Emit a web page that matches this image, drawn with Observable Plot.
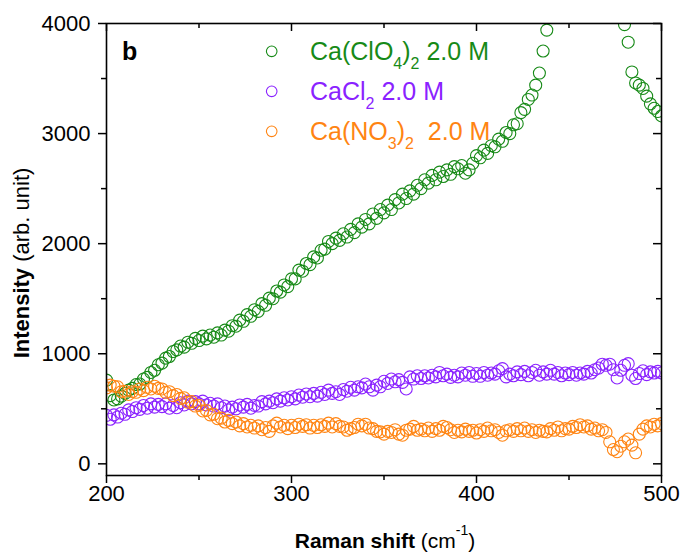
<!DOCTYPE html>
<html>
<head>
<meta charset="utf-8">
<script src="https://cdn.jsdelivr.net/npm/d3@7"></script>
<script src="https://cdn.jsdelivr.net/npm/@observablehq/plot@0.6"></script>
<style>
  html, body { margin: 0; padding: 0; background: #fff; }
  #chart { width: 681px; height: 553px; }
</style>
</head>
<body>
<div id="chart"></div>
<script>
// ---- data ----
const shift = [200,202,204,206,208,210,212,214,216,218,220,222,224,226,228,230,232,234,236,238,240,242,244,246,248,250,252,254,256,258,260,262,264,266,268,270,272,274,276,278,280,282,284,286,288,290,292,294,296,298,300,302,304,306,308,310,312,314,316,318,320,322,324,326,328,330,332,334,336,338,340,342,344,346,348,350,352,354,356,358,360,362,364,366,368,370,372,374,376,378,380,382,384,386,388,390,392,394,396,398,400,402,404,406,408,410,412,414,416,418,420,422,424,426,428,430,432,434,436,438,440,442,444,446,448,450,452,454,456,458,460,462,464,466,468,470,472,474,476,478,480,482,484,486,488,490,492,494,496,498,500];

// Ca(ClO4)2 2.0 M  (null = above the 4000 axis limit, not visible)
const caClO4 = [
  760,620,580,590,615, 640,670,685,720,725, 770,785,830,850,900, 915,960,975,1020,1035,
  1070,1060,1105,1095,1140, 1120,1160,1135,1170,1150, 1190,1170,1215,1205,1255, 1250,1305,1295,1355,1340,
  1400,1385,1455,1440,1505, 1500,1570,1560,1625,1610, 1680,1680,1760,1750,1820, 1810,1880,1870,1940,1950,
  2020,2000,2050,2030,2090, 2060,2130,2100,2180,2150, 2220,2180,2270,2230,2310, 2280,2350,2310,2400,2370,
  2450,2410,2480,2450,2530, 2500,2580,2550,2620,2580, 2650,2610,2670,2630,2700, 2680,2710,2640,2670,2730,
  2800,2780,2850,2820,2890, 2880,2950,2930,3010,3000, 3080,3090,3190,3220,3310, 3350,3440,3550,3750,3940,
  null,null,null,null,null, null,null,null,null,null, null,null,null,null,null, null,null,null,null,null,
  3990,3830,3560,3460,3440, 3410,3340,3270,3230,3200, 3160
];

// CaCl2 2.0 M
const caCl2 = [
  440,405,445,425,460, 450,490,475,510,495, 530,505,545,515,540, 520,545,505,530,510,
  555,535,570,545,565, 545,570,535,550,525, 545,510,525,490,515, 500,535,515,540,505,
  530,525,565,545,570, 555,590,570,600,580, 610,590,625,605,635, 610,640,615,650,630,
  670,640,655,630,675, 660,695,670,700,690, 725,700,670,715,700, 750,730,770,745,765,
  740,680,790,770,800, 775,800,780,805,790, 830,800,815,785,805, 790,825,805,830,795,
  820,795,830,805,825, 815,845,865,790,815, 800,835,810,840,800, 830,850,805,835,815,
  850,815,830,800,825, 810,830,805,825,815, 840,825,855,870,905, 895,905,855,780,850,
  895,910,805,775,820, 845,810,835,825,840, 825
];

// Ca(NO3)2 2.0 M
const caNO3 = [
  690,715,705,700,655, 660,630,655,650,680, 665,695,680,705,685, 680,650,655,620,630,
  595,600,560,565,525, 530,480,485,445,450, 410,415,380,395,365, 380,345,365,335,350,
  325,345,310,330,295, 345,370,335,350,320, 350,330,360,340,355, 325,350,330,355,340,
  370,335,365,340,335, 305,320,330,360,345, 360,325,320,295,290, 270,295,285,310,270,
  260,305,315,340,305, 315,300,325,295,320, 305,340,330,310,285, 305,290,315,295,305,
  280,310,295,325,300, 310,285,260,300,310, 295,320,300,325,295, 310,285,305,295,290,
  320,305,335,300,320, 315,340,330,355,335, 345,315,325,300,310, 285,200,130,110,160,
  200,225,170,100,270, 315,345,335,360,345, 365
];

const seriesNames  = ["Ca(ClO4)2 2.0 M", "CaCl2 2.0 M", "Ca(NO3)2 2.0 M"];
const seriesColors = ["#178a17", "#8a22ff", "#ff8412"];
const xMajorTicks = [200, 300, 400, 500];
const xMinorTicks = [250, 350, 450];
const yMajorTicks = [0, 1000, 2000, 3000, 4000];
const yMinorTicks = [500, 1500, 2500, 3500];

// ---- build table ----
const seriesValues = [caClO4, caCl2, caNO3];
const rows = [];
seriesValues.forEach((vals, k) => {
  vals.forEach((v, i) => {
    if (v != null) rows.push({shift: shift[i], intensity: v, series: seriesNames[k]});
  });
});

const W = 681, H = 553, mL = 106, mR = 20, mT = 23, mB = 78;
const innerW = W - mL - mR, innerH = H - mT - mB;
const FONT = "'Liberation Sans', Arial, Helvetica, sans-serif";

const plot = Plot.plot({
  width: W, height: H,
  marginLeft: mL, marginRight: mR, marginTop: mT, marginBottom: mB,
  style: {fontFamily: FONT, fontSize: "22px", color: "#000", background: "#fff"},
  x: {domain: [200, 500]},
  y: {domain: [-106, 4000]},
  color: {domain: seriesNames, range: seriesColors},
  marks: [
    Plot.dot(rows, {x: "shift", y: "intensity", stroke: "series", fill: "none", r: 6, strokeWidth: 1.1, clip: true}),
    Plot.frame({stroke: "#000", strokeWidth: 1.6}),
    Plot.axisX({ticks: xMajorTicks, tickSize: 8, tickPadding: 2, tickFormat: d => String(d), label: null, fontSize: 22, strokeWidth: 1.5}),
    Plot.axisX({ticks: xMinorTicks, tickSize: 5, tickFormat: () => "", label: null, strokeWidth: 1.5}),
    Plot.axisY({ticks: yMajorTicks, tickSize: 8, tickPadding: 8, tickFormat: d => String(d), label: null, fontSize: 22, strokeWidth: 1.5}),
    Plot.axisY({ticks: yMinorTicks, tickSize: 5, tickFormat: () => "", label: null, strokeWidth: 1.5}),
    Plot.tickX(xMajorTicks, {x: d => d, insetBottom: innerH - 8, strokeWidth: 1.5}),
    Plot.tickX(xMinorTicks, {x: d => d, insetBottom: innerH - 5, strokeWidth: 1.5}),
    Plot.tickY(yMajorTicks, {y: d => d, insetLeft: innerW - 8, strokeWidth: 1.5}),
    Plot.tickY(yMinorTicks, {y: d => d, insetLeft: innerW - 5, strokeWidth: 1.5})
  ]
});
document.getElementById("chart").appendChild(plot);

// ---- titles, panel letter, legend ----
const svg = d3.select(plot);

const yt = svg.append("text")
  .attr("transform", "translate(29,263) rotate(-90)")
  .attr("text-anchor", "middle").attr("font-family", FONT).attr("font-size", 22).attr("fill", "#000");
yt.append("tspan").attr("font-weight", "bold").text("Intensity");
yt.append("tspan").text(" (arb. unit)");

const xt = svg.append("text")
  .attr("x", 385).attr("y", 548)
  .attr("text-anchor", "middle").attr("font-family", FONT).attr("font-size", 21).attr("fill", "#000");
xt.append("tspan").attr("font-weight", "bold").text("Raman shift");
xt.append("tspan").text(" (cm");
xt.append("tspan").attr("font-size", 14).attr("dy", -13).text("-1");
xt.append("tspan").attr("dy", 13).text(")");

svg.append("text").attr("x", 122).attr("y", 60).attr("text-anchor", "start")
  .attr("font-family", FONT).attr("font-size", 25).attr("font-weight", "bold").attr("fill", "#000").text("b");

// legend entries: text pieces flagged as subscript or not
const legendParts = [
  [["Ca(ClO", 0], ["4", 1], [")", 0], ["2", 1], [" 2.0 M", 0]],
  [["CaCl", 0], ["2", 1], [" 2.0 M", 0]],
  [["Ca(NO", 0], ["3", 1], [")", 0], ["2", 1], [" \u00A02.0 M", 0]]
];
const legendY = [60, 100, 140];
legendParts.forEach((parts, k) => {
  svg.append("circle").attr("cx", 271.7).attr("cy", legendY[k] - 8.7).attr("r", 5.3)
    .attr("fill", "none").attr("stroke", seriesColors[k]).attr("stroke-width", 1.1);
  const t = svg.append("text").attr("x", 310).attr("y", legendY[k]).attr("text-anchor", "start")
    .attr("font-family", FONT).attr("font-size", 25).attr("fill", seriesColors[k]);
  let sub = false;
  parts.forEach(([s, isSub]) => {
    const sp = t.append("tspan").text(s);
    if (isSub && !sub) { sp.attr("font-size", 16).attr("dy", 9); sub = true; }
    else if (isSub && sub) { sp.attr("font-size", 16); }
    else if (!isSub && sub) { sp.attr("dy", -9); sub = false; }
  });
});
</script>
</body>
</html>
